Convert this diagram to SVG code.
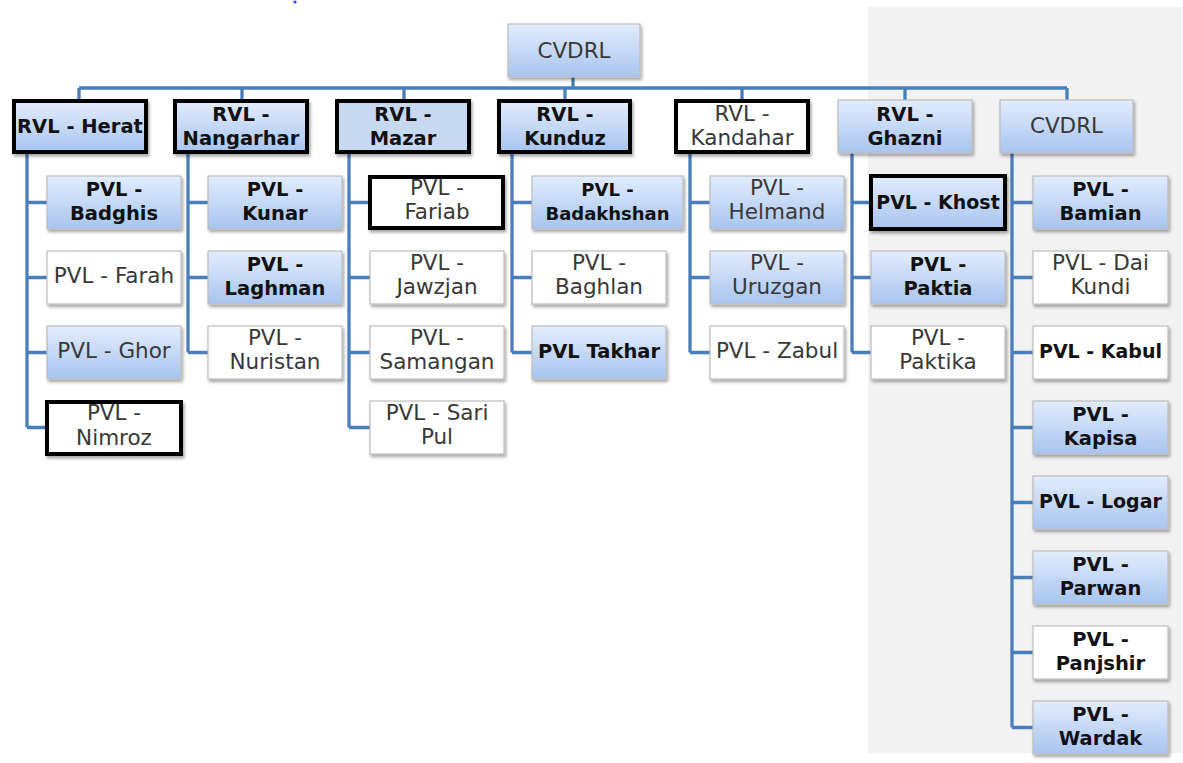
<svg xmlns="http://www.w3.org/2000/svg" width="1183" height="763" viewBox="0 0 1183 763">
<defs>
<linearGradient id="gb" x1="0" y1="0" x2="0" y2="1">
<stop offset="0" stop-color="#e2edfd"/>
<stop offset="1" stop-color="#a8c4ef"/>
</linearGradient>
<filter id="sh" x="-10%" y="-10%" width="125%" height="135%">
<feDropShadow dx="1.5" dy="2.5" stdDeviation="1.5" flood-color="#000" flood-opacity="0.35"/>
</filter>
<style>
.g{fill:url(#gb);stroke:#bdbdbd;stroke-width:1.2;filter:url(#sh)}
.w{fill:#fff;stroke:#bdbdbd;stroke-width:1.2;filter:url(#sh)}
.m{fill:#c6d9f1;stroke:#bdbdbd;stroke-width:1.2;filter:url(#sh)}
.k{stroke:#000;stroke-width:4}
text{font-family:"DejaVu Sans","Liberation Sans",sans-serif;text-anchor:middle}
.t{font-size:21.5px;fill:#383838}
.b{font-size:19.5px;font-weight:bold;fill:#111}
.c{fill:none;stroke:#4a7ebb;stroke-width:3.3;stroke-linejoin:miter}
</style>
</defs>
<rect x="868" y="7" width="314" height="746" fill="#f2f2f2"/>
<circle cx="295" cy="2" r="1.6" fill="#3a3aff"/>
<g id="connectors" class="c">
<path d="M573 77V88M79 88H1067M79 88V99M242 88V99M404 88V99M565 88V99M742 88V99M905 88V100M1067 88V100"/>
<path d="M27 154V427.5M27 202.5H47M27 277.5H47M27 352.5H47M27 427.5H47"/>
<path d="M188 154V352.5M188 202.5H208M188 277.5H208M188 352.5H208"/>
<path d="M349 154V427.5M349 202.5H370M349 277.5H370M349 352.5H370M349 427.5H370"/>
<path d="M512 154V352.5M512 202.5H532M512 277.5H532M512 352.5H532"/>
<path d="M690 154V352.5M690 202.5H710M690 277.5H710M690 352.5H710"/>
<path d="M852 153V352.5M852 202.5H871M852 277.5H871M852 352.5H871"/>
<path d="M1012 153V727.5M1012 202.5H1033M1012 277.5H1033M1012 352.5H1033M1012 427.5H1033M1012 502.5H1033M1012 577.5H1033M1012 652.5H1033M1012 727.5H1033"/>
</g>
<g id="n-cvdrl-top"><rect class="g" x="508" y="24" width="132" height="53"/><text class="t" x="574" y="58">CVDRL</text></g>
<g id="n-rvl-herat"><rect class="g k" x="14" y="101" width="132" height="51"/><text class="b" x="80" y="133">RVL - Herat</text></g>
<g id="n-rvl-nangarhar"><rect class="g k" x="175" y="101" width="132" height="51"/><text class="b" x="241" y="121">RVL -</text><text class="b" x="241" y="145">Nangarhar</text></g>
<g id="n-rvl-mazar"><rect class="m k" x="337" y="101" width="132" height="51"/><text class="b" x="403" y="121">RVL -</text><text class="b" x="403" y="145">Mazar</text></g>
<g id="n-rvl-kunduz"><rect class="g k" x="499" y="101" width="131" height="51"/><text class="b" x="565" y="121">RVL -</text><text class="b" x="565" y="145">Kunduz</text></g>
<g id="n-rvl-kandahar"><rect class="w k" x="676" y="101" width="132" height="51"/><text class="t" x="742" y="121">RVL -</text><text class="t" x="742" y="145">Kandahar</text></g>
<g id="n-rvl-ghazni"><rect class="g" x="838" y="100" width="134" height="53"/><text class="b" x="905" y="121">RVL -</text><text class="b" x="905" y="145">Ghazni</text></g>
<g id="n-cvdrl"><rect class="g" x="1000" y="100" width="133" height="53"/><text class="t" x="1066.5" y="133">CVDRL</text></g>

<g id="n-badghis"><rect class="g" x="47" y="176" width="134" height="53"/><text class="b" x="114" y="196">PVL -</text><text class="b" x="114" y="220">Badghis</text></g>
<g id="n-farah"><rect class="w" x="47" y="251" width="134" height="53"/><text class="t" x="114" y="283">PVL - Farah</text></g>
<g id="n-ghor"><rect class="g" x="47" y="326" width="134" height="53"/><text class="t" x="114" y="358">PVL - Ghor</text></g>
<g id="n-nimroz"><rect class="w k" x="47" y="402" width="134" height="52"/><text class="t" x="114" y="420">PVL -</text><text class="t" x="114" y="445">Nimroz</text></g>

<g id="n-kunar"><rect class="g" x="208" y="176" width="134" height="53"/><text class="b" x="275" y="196">PVL -</text><text class="b" x="275" y="220">Kunar</text></g>
<g id="n-laghman"><rect class="g" x="208" y="251" width="134" height="53"/><text class="b" x="275" y="271">PVL -</text><text class="b" x="275" y="295">Laghman</text></g>
<g id="n-nuristan"><rect class="w" x="208" y="326" width="134" height="53"/><text class="t" x="275" y="345">PVL -</text><text class="t" x="275" y="369">Nuristan</text></g>

<g id="n-fariab"><rect class="w k" x="370" y="177" width="133" height="51"/><text class="t" x="437" y="195">PVL -</text><text class="t" x="437" y="219">Fariab</text></g>
<g id="n-jawzjan"><rect class="w" x="370" y="251" width="134" height="53"/><text class="t" x="437" y="270">PVL -</text><text class="t" x="437" y="294">Jawzjan</text></g>
<g id="n-samangan"><rect class="w" x="370" y="326" width="134" height="53"/><text class="t" x="437" y="345">PVL -</text><text class="t" x="437" y="369">Samangan</text></g>
<g id="n-saripul"><rect class="w" x="370" y="401" width="134" height="53"/><text class="t" x="437" y="420">PVL - Sari</text><text class="t" x="437" y="444">Pul</text></g>

<g id="n-badakhshan"><rect class="g" x="532" y="176" width="151" height="53"/><text class="b" x="607.5" y="196" style="font-size:18px">PVL -</text><text class="b" x="607.5" y="220" style="font-size:18px">Badakhshan</text></g>
<g id="n-baghlan"><rect class="w" x="532" y="251" width="134" height="53"/><text class="t" x="599" y="270">PVL -</text><text class="t" x="599" y="294">Baghlan</text></g>
<g id="n-takhar"><rect class="g" x="532" y="326" width="134" height="53"/><text class="b" x="599" y="358">PVL Takhar</text></g>

<g id="n-helmand"><rect class="g" x="710" y="176" width="134" height="53"/><text class="t" x="777" y="195">PVL -</text><text class="t" x="777" y="219">Helmand</text></g>
<g id="n-uruzgan"><rect class="g" x="710" y="251" width="134" height="53"/><text class="t" x="777" y="270">PVL -</text><text class="t" x="777" y="294">Uruzgan</text></g>
<g id="n-zabul"><rect class="w" x="710" y="326" width="134" height="53"/><text class="t" x="777" y="358">PVL - Zabul</text></g>

<g id="n-khost"><rect class="g k" x="871" y="176" width="134" height="53"/><text class="b" x="938" y="209" style="font-size:19px">PVL - Khost</text></g>
<g id="n-paktia"><rect class="g" x="871" y="251" width="134" height="53"/><text class="b" x="938" y="271">PVL -</text><text class="b" x="938" y="295">Paktia</text></g>
<g id="n-paktika"><rect class="w" x="871" y="326" width="134" height="53"/><text class="t" x="938" y="345">PVL -</text><text class="t" x="938" y="369">Paktika</text></g>

<g id="n-bamian"><rect class="g" x="1033" y="176" width="135" height="53"/><text class="b" x="1100.5" y="196">PVL -</text><text class="b" x="1100.5" y="220">Bamian</text></g>
<g id="n-daikundi"><rect class="w" x="1033" y="251" width="135" height="53"/><text class="t" x="1100.5" y="270">PVL - Dai</text><text class="t" x="1100.5" y="294">Kundi</text></g>
<g id="n-kabul"><rect class="w" x="1033" y="326" width="135" height="53"/><text class="b" x="1100.5" y="358" style="font-size:19px">PVL - Kabul</text></g>
<g id="n-kapisa"><rect class="g" x="1033" y="401" width="135" height="53"/><text class="b" x="1100.5" y="421">PVL -</text><text class="b" x="1100.5" y="445">Kapisa</text></g>
<g id="n-logar"><rect class="g" x="1033" y="476" width="135" height="53"/><text class="b" x="1100.5" y="508" style="font-size:19px">PVL - Logar</text></g>
<g id="n-parwan"><rect class="g" x="1033" y="551" width="135" height="53"/><text class="b" x="1100.5" y="571">PVL -</text><text class="b" x="1100.5" y="595">Parwan</text></g>
<g id="n-panjshir"><rect class="w" x="1033" y="626" width="135" height="53"/><text class="b" x="1100.5" y="646">PVL -</text><text class="b" x="1100.5" y="670">Panjshir</text></g>
<g id="n-wardak"><rect class="g" x="1033" y="701" width="135" height="53"/><text class="b" x="1100.5" y="721">PVL -</text><text class="b" x="1100.5" y="745">Wardak</text></g>
</svg>
